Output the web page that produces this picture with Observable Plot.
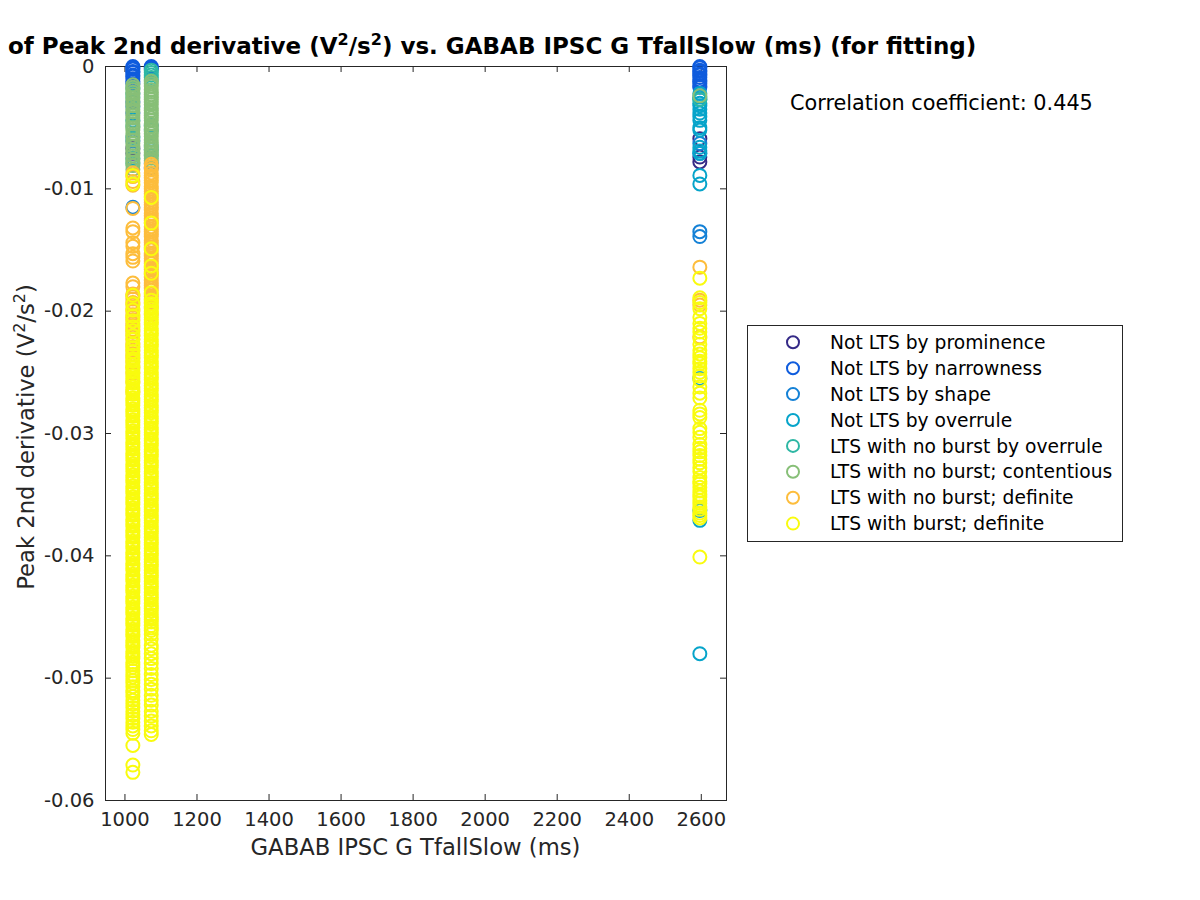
<!DOCTYPE html>
<html><head><meta charset="utf-8">
<script src="https://cdn.jsdelivr.net/npm/d3@7"></script>
<script src="https://cdn.jsdelivr.net/npm/@observablehq/plot@0.6"></script>
<style>
body{margin:0;background:#fff;}
#wrap{position:relative;width:1200px;height:900px;background:#fff;}
#wrap svg{position:absolute;left:0;top:0;}
</style></head><body><div id="wrap"></div>
<script>
const categories = ["Not LTS by prominence","Not LTS by narrowness","Not LTS by shape","Not LTS by overrule","LTS with no burst by overrule","LTS with no burst; contentious","LTS with no burst; definite","LTS with burst; definite"];
const colors = ["#352a87","#0f5cdd","#1481d6","#06a4ca","#2eb7a4","#87bf77","#fdbd3c","#f9fb0e"];
const xLevels = [1022, 1073, 2596];
const xTicks = [1000,1200,1400,1600,1800,2000,2200,2400,2600];
const yTicks = [0,-0.01,-0.02,-0.03,-0.04,-0.05,-0.06];
const yTickLabels = ["0","-0.01","-0.02","-0.03","-0.04","-0.05","-0.06"];
const correlation = 0.445;

// y values per category, one array per x level (A = 1022, B = 1073, C = 2596)
const prominenceA = [-0.0067,-0.0071];
const prominenceB = [];
const prominenceC = [-0.0059,-0.0074,-0.0078];

const narrownessA = [0,-0.0001,-0.0002,-0.0004,-0.0005,-0.0007,-0.0008,-0.0010,-0.0012,-0.0014,-0.0029,-0.0038];
const narrownessB = [0,-0.0001,-0.0002,-0.0083];
const narrownessC = [0,-0.0001,-0.0003,-0.0004,-0.0006,-0.0007,-0.0009,-0.0011,-0.0012,-0.0014,-0.0016,-0.0017];

const shapeA = [-0.0033,-0.0061,-0.0115];
const shapeB = [-0.0079];
const shapeC = [-0.0063,-0.0071,-0.0135,-0.0139];

const overruleA = [-0.0022,-0.0044,-0.0058,-0.0075];
const overruleB = [-0.0048,-0.0068];
const overruleC = [-0.0022,-0.0025,-0.0027,-0.0030,-0.0032,-0.0035,-0.0038,-0.0041,-0.0044,-0.0050,-0.0052,-0.0066,-0.0069,-0.0071,-0.0089,-0.0096,-0.0255,-0.0363,-0.0371,-0.0480];

const noBurstOverruleA = [-0.0018,-0.0025,-0.0049,-0.0079];
const noBurstOverruleB = [-0.0003,-0.0005,-0.0007,-0.0009,-0.0011,-0.0052,-0.0065,-0.0073];
const noBurstOverruleC = [-0.0027];

const contentiousA = [-0.0015,-0.0017,-0.0019,-0.0021,-0.0023,-0.0026,-0.0028,-0.0030,-0.0032,-0.0035,-0.0037,-0.0040,-0.0042,-0.0045,-0.0047,-0.0050,-0.0052,-0.0055,-0.0057,-0.0060,-0.0063,-0.0065,-0.0068,-0.0070,-0.0073,-0.0076,-0.0078,-0.0081,-0.0084];
const contentiousB = [-0.0012,-0.0014,-0.0016,-0.0019,-0.0021,-0.0023,-0.0025,-0.0027,-0.0029,-0.0031,-0.0034,-0.0036,-0.0038,-0.0040,-0.0042,-0.0044,-0.0047,-0.0049,-0.0051,-0.0053,-0.0055,-0.0057,-0.0060,-0.0062,-0.0064,-0.0066,-0.0068,-0.0070,-0.0072,-0.0075,-0.0077];
const contentiousC = [-0.0024];

const definiteA = [-0.0087,-0.0090,-0.0094,-0.0097,-0.0116,-0.0132,-0.0135,-0.0144,-0.0147,-0.0153,-0.0156,-0.0159,-0.0177,-0.0180,-0.0186,-0.0188,-0.0190,-0.0193,-0.0195,-0.0198,-0.0200,-0.0203,-0.0205,-0.0207,-0.0210,-0.0212,-0.0215,-0.0217,-0.0220,-0.0223,-0.0226,-0.0229,-0.0232,-0.0235,-0.0238,-0.0242,-0.0246,-0.0251,-0.0258,-0.0266];
const definiteB = [-0.0080,-0.0082,-0.0084,-0.0087,-0.0089,-0.0091,-0.0093,-0.0095,-0.0098,-0.0100,-0.0102,-0.0104,-0.0106,-0.0109,-0.0111,-0.0113,-0.0115,-0.0117,-0.0120,-0.0122,-0.0124,-0.0126,-0.0128,-0.0131,-0.0133,-0.0135,-0.0137,-0.0139,-0.0142,-0.0144,-0.0146,-0.0148,-0.0150,-0.0153,-0.0155,-0.0157,-0.0159,-0.0161,-0.0164,-0.0166,-0.0168,-0.0170,-0.0172,-0.0175,-0.0177,-0.0179,-0.0181,-0.0183,-0.0186,-0.0188,-0.0190,-0.0193,-0.0197,-0.0203];
const definiteC = [-0.0164,-0.0191,-0.0195,-0.0221];

const burstA = [-0.0089,-0.0096,-0.0187,-0.0194,-0.0199,-0.0204,-0.0208,-0.0213,-0.0216,-0.0220,-0.0223,-0.0227,-0.0230,-0.0233,-0.0236,-0.0239,-0.0241,-0.0244,
-0.0246,-0.0248,-0.0250,-0.0253,-0.0255,-0.0257,-0.0259,-0.0262,-0.0264,-0.0266,-0.0268,-0.0271,-0.0273,-0.0275,-0.0277,-0.0280,-0.0282,-0.0284,-0.0286,-0.0289,-0.0291,-0.0293,-0.0295,-0.0298,-0.0300,-0.0302,-0.0304,-0.0307,-0.0309,-0.0311,-0.0313,-0.0316,-0.0318,-0.0320,-0.0322,-0.0325,-0.0327,-0.0329,-0.0331,-0.0334,-0.0336,-0.0338,-0.0340,-0.0343,-0.0345,-0.0347,-0.0349,-0.0352,-0.0354,-0.0356,-0.0358,-0.0361,-0.0363,-0.0365,-0.0367,-0.0370,-0.0372,-0.0374,-0.0376,-0.0379,-0.0381,-0.0383,-0.0385,-0.0388,-0.0390,-0.0392,-0.0394,-0.0397,-0.0399,-0.0401,-0.0403,-0.0406,-0.0408,-0.0410,-0.0412,-0.0415,-0.0417,-0.0419,-0.0421,-0.0424,-0.0426,-0.0428,-0.0430,-0.0433,-0.0435,-0.0437,-0.0439,-0.0442,-0.0444,-0.0446,-0.0448,-0.0451,-0.0453,-0.0455,-0.0457,-0.0460,-0.0462,-0.0464,-0.0466,-0.0469,-0.0471,-0.0473,-0.0475,-0.0478,-0.0480,-0.0482,-0.0484,-0.0487,-0.0489,-0.0491,-0.0494,-0.0497,-0.0499,-0.0502,-0.0504,-0.0507,-0.0510,-0.0512,-0.0515,-0.0518,-0.0521,-0.0524,-0.0527,-0.0530,-0.0533,-0.0536,-0.0539,-0.0542,-0.0545,-0.0555,-0.0571,-0.0577];
const burstB = [-0.0107,-0.0128,-0.0149,-0.0163,-0.0169,-0.0185,-0.0191,-0.0194,-0.0196,-0.0198,
-0.0200,-0.0202,-0.0205,-0.0207,-0.0209,-0.0211,-0.0214,-0.0216,-0.0218,-0.0220,-0.0223,-0.0225,-0.0227,-0.0229,-0.0232,-0.0234,-0.0236,-0.0238,-0.0241,-0.0243,-0.0245,-0.0247,-0.0250,-0.0252,-0.0254,-0.0256,-0.0259,-0.0261,-0.0263,-0.0265,-0.0268,-0.0270,-0.0272,-0.0274,-0.0277,-0.0279,-0.0281,-0.0283,-0.0286,-0.0288,-0.0290,-0.0292,-0.0295,-0.0297,-0.0299,-0.0301,-0.0304,-0.0306,-0.0308,-0.0310,-0.0313,-0.0315,-0.0317,-0.0319,-0.0322,-0.0324,-0.0326,-0.0328,-0.0331,-0.0333,-0.0335,-0.0337,-0.0340,-0.0342,-0.0344,-0.0346,-0.0349,-0.0351,-0.0353,-0.0355,-0.0358,-0.0360,-0.0362,-0.0364,-0.0367,-0.0369,-0.0371,-0.0373,-0.0376,-0.0378,-0.0380,-0.0382,-0.0385,-0.0387,-0.0389,-0.0391,-0.0394,-0.0396,-0.0398,-0.0400,-0.0403,-0.0405,-0.0407,-0.0409,-0.0412,-0.0414,-0.0416,-0.0418,-0.0421,-0.0423,-0.0425,-0.0427,-0.0430,-0.0432,-0.0434,-0.0436,-0.0439,-0.0441,-0.0443,-0.0445,-0.0448,-0.0450,-0.0452,-0.0454,-0.0457,-0.0459,-0.0461,-0.0464,
-0.0468,-0.0473,-0.0476,-0.0480,-0.0484,-0.0488,-0.0492,-0.0497,-0.0501,-0.0505,-0.0509,-0.0514,-0.0518,-0.0522,-0.0527,-0.0531,-0.0535,-0.0539,-0.0543,-0.0546];
const burstC = [-0.0173,-0.0189,-0.0193,-0.0198,-0.0205,-0.0210,-0.0214,-0.0217,-0.0222,-0.0227,-0.0232,-0.0235,-0.0238,-0.0241,-0.0243,-0.0247,-0.0250,-0.0253,-0.0256,-0.0262,-0.0267,-0.0271,-0.0281,-0.0284,-0.0287,-0.0296,-0.0299,-0.0303,-0.0309,-0.0312,-0.0315,-0.0318,-0.0321,-0.0324,-0.0328,-0.0331,-0.0336,-0.0339,-0.0341,-0.0344,-0.0347,-0.0350,-0.0352,-0.0355,-0.0357,-0.0360,-0.0362,-0.0365,-0.0367,-0.0369,-0.0401];

const seriesByCategory = [
  [prominenceA, prominenceB, prominenceC],
  [narrownessA, narrownessB, narrownessC],
  [shapeA, shapeB, shapeC],
  [overruleA, overruleB, overruleC],
  [noBurstOverruleA, noBurstOverruleB, noBurstOverruleC],
  [contentiousA, contentiousB, contentiousC],
  [definiteA, definiteB, definiteC],
  [burstA, burstB, burstC]
];

const points = [];
seriesByCategory.forEach((cols, ci) => cols.forEach((arr, xi) => arr.forEach(v => points.push({x: xLevels[xi], y: v, cat: categories[ci]}))));

const ink = "#262626";
const plot = Plot.plot({
  width: 1200, height: 900,
  marginLeft: 105, marginRight: 474, marginTop: 66, marginBottom: 100,
  style: {fontFamily: "DejaVu Sans", fontSize: "19.5px", color: ink, background: "white", overflow: "visible"},
  x: {domain: [946, 2670], label: null},
  y: {domain: [-0.06, 0], label: null},
  color: {domain: categories, range: colors},
  marks: [
    Plot.frame({stroke: ink, strokeWidth: 1}),
    Plot.ruleX(xTicks, {x: d => d, insetTop: 728, stroke: ink}),
    Plot.ruleX(xTicks, {x: d => d, insetBottom: 728, stroke: ink}),
    Plot.ruleY(yTicks, {y: d => d, insetRight: 615, stroke: ink}),
    Plot.ruleY(yTicks, {y: d => d, insetLeft: 615, stroke: ink}),
    Plot.axisX({ticks: xTicks, tickSize: 0, tickPadding: 12, tickFormat: d => String(d), label: null}),
    Plot.axisY({ticks: yTicks, tickSize: 0, tickPadding: 11, tickFormat: d => yTickLabels[yTicks.indexOf(d)], label: null}),
    Plot.dot(points, {x: "x", y: "y", stroke: "cat", r: 6.5, strokeWidth: 2, fill: "none"})
  ]
});
const wrap = document.getElementById("wrap");
wrap.appendChild(plot);

// overlay: title, axis labels, correlation text, legend
const ov = d3.create("svg").attr("width", 1200).attr("height", 900)
  .attr("font-family", "DejaVu Sans").style("pointer-events", "none");

function supText(sel, parts, supSize, rise) {
  parts.forEach(p => {
    if (p.sup) sel.append("tspan").attr("dy", -rise).attr("font-size", supSize).text(p.t);
    else if (p.after) sel.append("tspan").attr("dy", rise).text(p.t);
    else sel.append("tspan").text(p.t);
  });
}
const title = ov.append("text").attr("x", 8).attr("y", 53.5).attr("font-size", 23).attr("font-weight", "bold").attr("fill", "#000");
supText(title, [{t: "of Peak 2nd derivative (V"}, {t: "2", sup: true}, {t: "/s", after: true}, {t: "2", sup: true}, {t: ") vs. GABAB IPSC G TfallSlow (ms) (for fitting)", after: true}], 16, 9);

ov.append("text").attr("x", 415.5).attr("y", 855).attr("text-anchor", "middle").attr("font-size", 22.7).attr("fill", ink)
  .text("GABAB IPSC G TfallSlow (ms)");

const ylab = ov.append("text").attr("transform", "translate(33.5,437) rotate(-90)").attr("text-anchor", "middle").attr("font-size", 22.7).attr("fill", ink);
supText(ylab, [{t: "Peak 2nd derivative (V"}, {t: "2", sup: true}, {t: "/s", after: true}, {t: "2", sup: true}, {t: ")", after: true}], 16, 9);

ov.append("text").attr("x", 790).attr("y", 110).attr("font-size", 20.8).attr("fill", "#000")
  .text("Correlation coefficient: " + correlation);

const lg = ov.append("g");
lg.append("rect").attr("x", 747.5).attr("y", 325.5).attr("width", 375).attr("height", 216)
  .attr("fill", "white").attr("stroke", ink).attr("stroke-width", 1);
categories.forEach((c, i) => {
  const cy = 342.3 + i * 25.9;
  lg.append("circle").attr("cx", 793).attr("cy", cy).attr("r", 6).attr("fill", "none")
    .attr("stroke", colors[i]).attr("stroke-width", 2);
  lg.append("text").attr("x", 830).attr("y", cy + 6.6).attr("font-size", 18.7).attr("fill", "#000").text(c);
});
wrap.appendChild(ov.node());
</script></body></html>
